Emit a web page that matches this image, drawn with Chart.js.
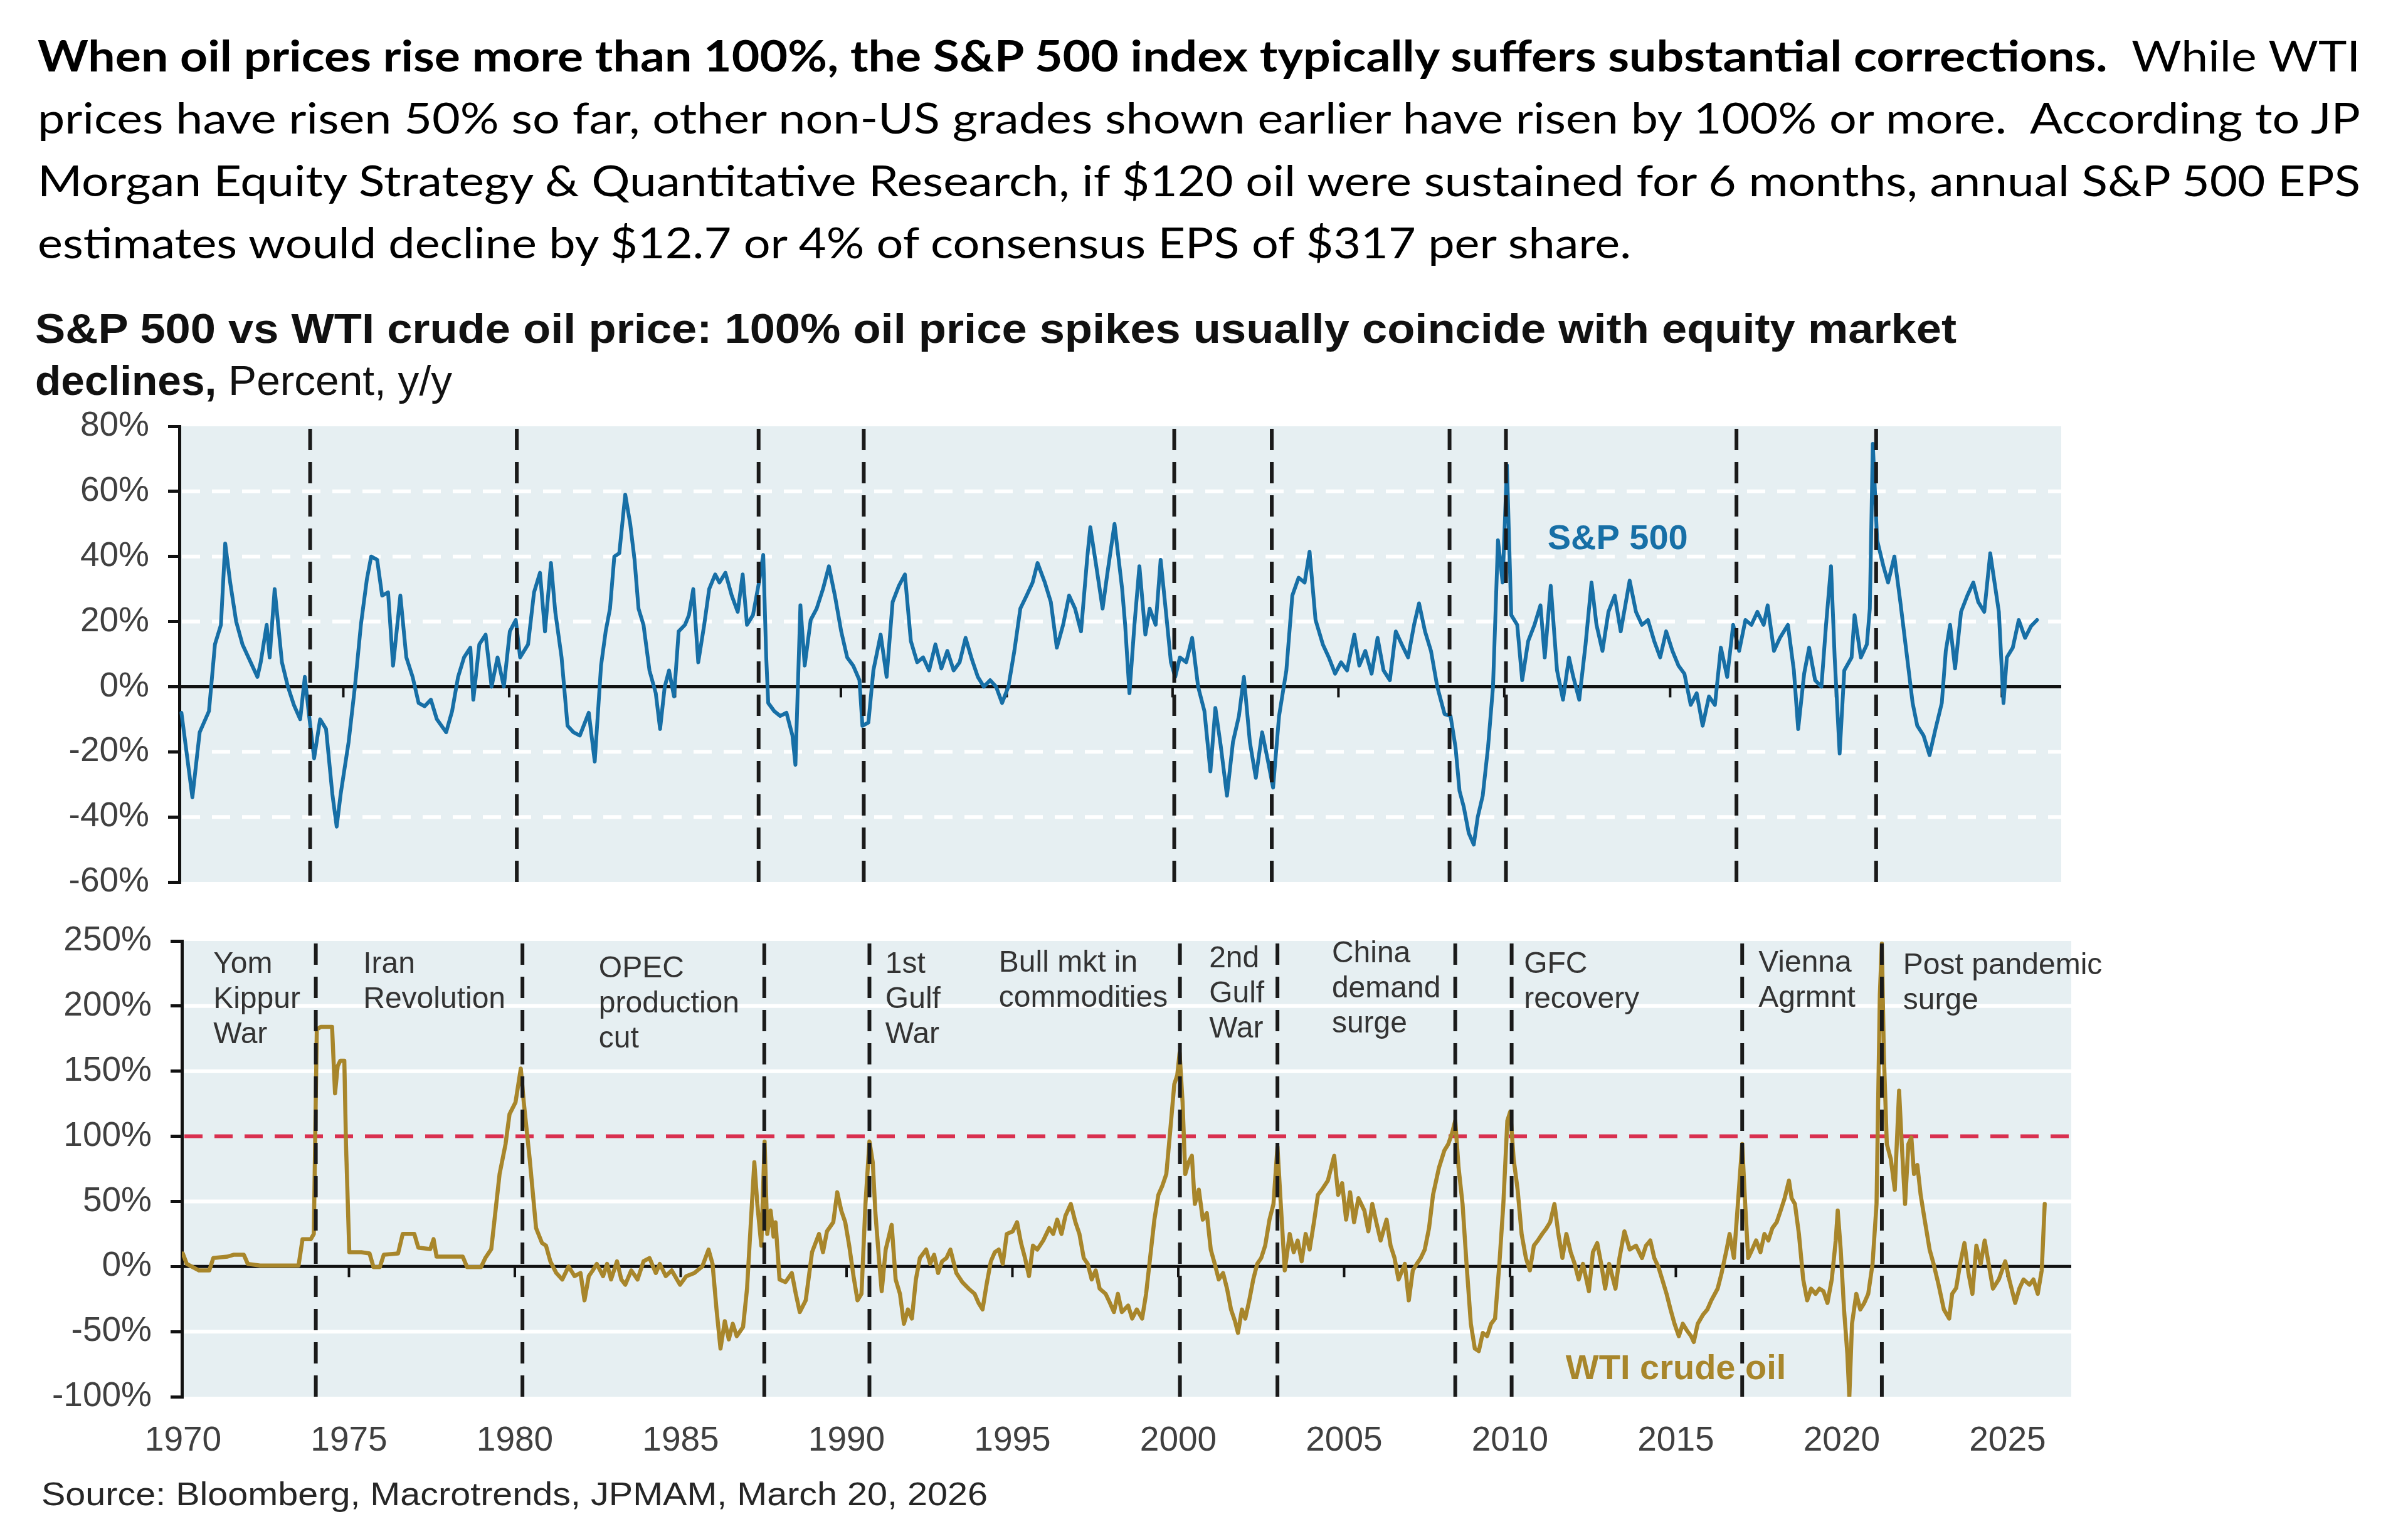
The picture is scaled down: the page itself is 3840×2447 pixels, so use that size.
<!DOCTYPE html>
<html>
<head>
<meta charset="utf-8">
<script src="https://cdn.jsdelivr.net/npm/chart.js@4.4.1/dist/chart.umd.min.js"></script>
<style>
  html, body { margin: 0; padding: 0; background: #fff; }
  body { width: 3840px; height: 2447px; position: relative; overflow: hidden; }
  .t { position: absolute; white-space: nowrap; transform-origin: 0 0; }
  .para { font-family: Lato, "Open Sans", sans-serif; font-size: 68px; line-height: 80px; color: #000; }
  .ttl { font-family: "Liberation Sans", Arial, sans-serif; font-size: 66px; line-height: 76px; color: #111; }
  .src { font-family: "Liberation Sans", Arial, sans-serif; font-size: 52px; line-height: 60px; color: #262626; }
  canvas { position: absolute; left: 0; }
</style>
</head>
<body>
<div class="t para" style="left:60px;top:48px" data-w="3704"><b>When oil prices rise more than 100%, the S&amp;P 500 index typically suffers substantial corrections.</b>&nbsp; While WTI</div>
<div class="t para" style="left:60px;top:147px" data-w="3704">prices have risen 50% so far, other non-US grades shown earlier have risen by 100% or more.&nbsp; According to JP</div>
<div class="t para" style="left:60px;top:247px" data-w="3704">Morgan Equity Strategy &amp; Quantitative Research, if $120 oil were sustained for 6 months, annual S&amp;P 500 EPS</div>
<div class="t para" style="left:60px;top:346px" data-w="2541">estimates would decline by $12.7 or 4% of consensus EPS of $317 per share.</div>

<div class="t ttl" style="left:56px;top:486px" data-w="3064"><b>S&amp;P 500 vs WTI crude oil price: 100% oil price spikes usually coincide with equity market</b></div>
<div class="t ttl" style="left:56px;top:569px" data-w="665"><b>declines,</b> Percent, y/y</div>

<canvas id="spxChart" width="3840" height="820" style="top:640px"></canvas>
<canvas id="wtiChart" width="3840" height="987" style="top:1460px"></canvas>

<div class="t src" style="left:66px;top:2353px" data-w="1509">Source: Bloomberg, Macrotrends, JPMAM, March 20, 2026</div>

<script>
// ---- data ----
const spxYears = [
  1970.12, 1970.45, 1970.67, 1970.95, 1971.13, 1971.31, 1971.44, 1971.59, 1971.77, 1971.96,
  1972.14, 1972.41, 1972.51, 1972.69, 1972.78, 1972.93, 1973.15, 1973.33, 1973.51, 1973.70,
  1973.84, 1973.97, 1974.12, 1974.30, 1974.48, 1974.67, 1974.80, 1974.92, 1975.16, 1975.35,
  1975.53, 1975.71, 1975.84, 1976.02, 1976.17, 1976.35, 1976.50, 1976.72, 1976.90, 1977.09,
  1977.27, 1977.45, 1977.64, 1977.82, 1978.10, 1978.28, 1978.46, 1978.64, 1978.83, 1978.92,
  1979.10, 1979.29, 1979.47, 1979.65, 1979.84, 1980.02, 1980.20, 1980.33, 1980.57, 1980.75,
  1980.93, 1981.08, 1981.26, 1981.39, 1981.58, 1981.76, 1981.94, 1982.13, 1982.40, 1982.58,
  1982.77, 1982.91, 1983.04, 1983.17, 1983.32, 1983.50, 1983.65, 1983.78, 1983.90, 1984.05,
  1984.23, 1984.42, 1984.55, 1984.69, 1984.82, 1984.97, 1985.11, 1985.30, 1985.42, 1985.55,
  1985.70, 1985.88, 1986.03, 1986.21, 1986.34, 1986.52, 1986.71, 1986.89, 1987.04, 1987.17,
  1987.35, 1987.53, 1987.66, 1987.75, 1987.81, 1987.99, 1988.17, 1988.36, 1988.54, 1988.63,
  1988.78, 1988.91, 1989.09, 1989.27, 1989.46, 1989.64, 1989.82, 1990.01, 1990.19, 1990.37,
  1990.56, 1990.65, 1990.83, 1990.98, 1991.20, 1991.38, 1991.56, 1991.75, 1991.93, 1992.11,
  1992.30, 1992.48, 1992.66, 1992.85, 1993.03, 1993.21, 1993.40, 1993.58, 1993.76, 1993.95,
  1994.13, 1994.31, 1994.50, 1994.68, 1994.86, 1995.05, 1995.23, 1995.41, 1995.60, 1995.78,
  1995.93, 1996.15, 1996.33, 1996.51, 1996.70, 1996.88, 1997.06, 1997.24, 1997.43, 1997.52,
  1997.70, 1997.89, 1998.03, 1998.25, 1998.48, 1998.57, 1998.70, 1998.85, 1999.00, 1999.18,
  1999.31, 1999.49, 1999.64, 1999.80, 1999.95, 2000.08, 2000.22, 2000.41, 2000.59, 2000.77,
  2000.96, 2001.14, 2001.29, 2001.45, 2001.64, 2001.82, 2002.00, 2002.15, 2002.33, 2002.51,
  2002.70, 2002.88, 2003.03, 2003.21, 2003.43, 2003.61, 2003.80, 2003.98, 2004.13, 2004.31,
  2004.53, 2004.71, 2004.90, 2005.08, 2005.26, 2005.48, 2005.63, 2005.81, 2006.00, 2006.18,
  2006.36, 2006.55, 2006.73, 2006.91, 2007.10, 2007.28, 2007.43, 2007.61, 2007.79, 2007.98,
  2008.20, 2008.38, 2008.53, 2008.65, 2008.78, 2008.93, 2009.08, 2009.20, 2009.35, 2009.51,
  2009.66, 2009.81, 2009.95, 2010.08, 2010.21, 2010.39, 2010.54, 2010.72, 2010.91, 2011.09,
  2011.22, 2011.40, 2011.59, 2011.77, 2011.95, 2012.08, 2012.26, 2012.45, 2012.63, 2012.78,
  2012.96, 2013.14, 2013.33, 2013.51, 2013.78, 2013.97, 2014.15, 2014.33, 2014.52, 2014.70,
  2014.88, 2015.07, 2015.25, 2015.43, 2015.62, 2015.80, 2015.98, 2016.17, 2016.35, 2016.53,
  2016.72, 2016.90, 2017.08, 2017.27, 2017.45, 2017.63, 2017.82, 2017.94, 2018.13, 2018.31,
  2018.55, 2018.73, 2018.86, 2019.04, 2019.19, 2019.37, 2019.56, 2019.70, 2019.85, 2019.96,
  2020.11, 2020.25, 2020.47, 2020.56, 2020.75, 2020.93, 2021.02, 2021.11, 2021.24, 2021.43,
  2021.57, 2021.76, 2021.94, 2022.12, 2022.31, 2022.45, 2022.64, 2022.82, 2023.00, 2023.19,
  2023.31, 2023.44, 2023.59, 2023.77, 2023.96, 2024.14, 2024.29, 2024.47, 2024.65, 2024.78,
  2024.91, 2025.05, 2025.15, 2025.33, 2025.51, 2025.70, 2025.88, 2026.06
];
const spxValues = [
  -8, -34, -14, -7.5, 13, 19, 44, 32, 20, 13,
  9, 3, 7.5, 19, 9, 30, 7.5, 0, -5.6, -10,
  3, -9, -22, -10, -13, -33, -43, -33, -17, 0,
  19, 33, 40, 39, 28, 29, 6.5, 28, 9, 3,
  -5, -6, -4, -10, -14, -7.5, 3, 9, 12, -4,
  13, 16, 0, 9, 0, 17, 20.5, 9, 13, 29,
  35, 17, 38, 23, 9, -12, -14, -15, -8, -23,
  6.5, 17, 24, 40, 41, 59, 50, 39, 24, 19,
  5, -2, -13, 0, 5, -3, 17, 19, 22, 30,
  7.5, 19, 30, 34.5, 32, 35, 28, 23, 34.5, 19,
  22, 32, 40.5, 9, -5, -7.5, -9, -8, -15, -24,
  25, 6.5, 20.5, 24, 30, 37, 28, 17, 9, 6.5,
  2, -12, -11, 5, 16, 3, 26, 31, 34.5, 14,
  7.5, 9, 5, 13, 5.6, 11, 5, 7.5, 15, 8.4,
  3, 0, 2, 0, -5, 0, 11, 24, 28, 32,
  38, 32, 26, 12, 19, 28, 24, 17, 40, 49,
  37, 24, 34.5, 50, 30, 19, -2, 19, 37, 16,
  24, 19, 39, 23, 7.5, 3, 9, 7.5, 15, 0,
  -7.5, -26, -6.5, -18, -33.5, -17, -9, 3, -17, -28,
  -14, -23, -31, -9, 5, 28, 33.5, 32, 41.5, 20.5,
  13, 9, 4, 7.5, 5, 16, 6.5, 11, 4, 15,
  5, 2, 17, 13, 9, 19, 25.6, 17, 11, 0,
  -8.4, -9, -18.6, -32, -37, -45, -48.5, -40, -33.5, -18.6,
  0, 45, 32, 68, 22, 19, 2, 14, 19, 25,
  9, 31, 5, -4, 9, 3, -4, 13, 32, 19,
  11, 23, 28, 17, 32.6, 23, 19, 20.5, 14, 9,
  17, 11, 6.5, 4, -5.6, -2, -12, -3, -5.6, 12,
  3, 19, 11, 20.5, 19, 23, 19, 25, 11, 15,
  19, 5, -13, 4, 12, 2, 0, 19, 37, 9,
  -20.5, 5, 9, 22, 9, 13, 24, 74.6, 45, 37,
  32, 40, 26, 11, -5, -12, -15, -21, -13, -5,
  11, 19, 5.6, 23, 28, 32, 26, 23, 41, 32,
  23, -5, 9, 12, 20.5, 15, 18.6, 20.5
];

const wtiYears = [
  1969.99, 1970.11, 1970.48, 1970.79, 1970.91, 1971.34, 1971.52, 1971.83, 1971.95, 1972.32,
  1973.48, 1973.60, 1973.85, 1973.94, 1974.03, 1974.15, 1974.49, 1974.58, 1974.66, 1974.74,
  1974.86, 1974.91, 1975.01, 1975.37, 1975.62, 1975.74, 1975.93, 1976.05, 1976.48, 1976.62,
  1976.97, 1977.09, 1977.45, 1977.55, 1977.64, 1978.43, 1978.56, 1978.98, 1979.11, 1979.29,
  1979.54, 1979.72, 1979.84, 1980.02, 1980.18, 1980.27, 1980.45, 1980.64, 1980.82, 1980.94,
  1981.07, 1981.25, 1981.43, 1981.62, 1981.80, 1981.98, 1982.10, 1982.23, 1982.35, 1982.47,
  1982.66, 1982.78, 1982.90, 1983.08, 1983.21, 1983.33, 1983.51, 1983.70, 1983.88, 1984.06,
  1984.25, 1984.37, 1984.55, 1984.73, 1984.98, 1985.17, 1985.41, 1985.65, 1985.84, 1985.96,
  1986.08, 1986.20, 1986.33, 1986.45, 1986.57, 1986.69, 1986.88, 1987.00, 1987.12, 1987.22,
  1987.31, 1987.43, 1987.53, 1987.61, 1987.71, 1987.80, 1987.86, 1987.98, 1988.16, 1988.35,
  1988.47, 1988.59, 1988.77, 1988.96, 1989.17, 1989.29, 1989.41, 1989.60, 1989.72, 1989.84,
  1989.96, 1990.08, 1990.21, 1990.33, 1990.45, 1990.57, 1990.69, 1990.79, 1990.87, 1990.99,
  1991.06, 1991.18, 1991.36, 1991.48, 1991.61, 1991.73, 1991.85, 1991.97, 1992.09, 1992.21,
  1992.40, 1992.52, 1992.64, 1992.76, 1992.88, 1993.01, 1993.13, 1993.31, 1993.49, 1993.68,
  1993.86, 1993.98, 1994.10, 1994.22, 1994.35, 1994.47, 1994.59, 1994.71, 1994.83, 1995.01,
  1995.14, 1995.26, 1995.38, 1995.50, 1995.62, 1995.75, 1995.93, 1996.11, 1996.23, 1996.35,
  1996.48, 1996.60, 1996.76, 1996.90, 1997.02, 1997.15, 1997.27, 1997.39, 1997.51, 1997.63,
  1997.81, 1997.94, 1998.06, 1998.18, 1998.30, 1998.49, 1998.61, 1998.75, 1998.91, 1999.03,
  1999.15, 1999.28, 1999.40, 1999.52, 1999.64, 1999.76, 1999.88, 1999.97, 2000.04, 2000.13,
  2000.21, 2000.31, 2000.41, 2000.50, 2000.62, 2000.74, 2000.86, 2000.98, 2001.10, 2001.22,
  2001.35, 2001.47, 2001.59, 2001.71, 2001.80, 2001.92, 2002.02, 2002.14, 2002.26, 2002.38,
  2002.50, 2002.62, 2002.75, 2002.87, 2002.99, 2003.09, 2003.21, 2003.36, 2003.48, 2003.60,
  2003.72, 2003.84, 2003.96, 2004.09, 2004.21, 2004.33, 2004.51, 2004.70, 2004.82, 2004.94,
  2005.06, 2005.18, 2005.30, 2005.43, 2005.61, 2005.73, 2005.85, 2005.97, 2006.10, 2006.28,
  2006.40, 2006.52, 2006.64, 2006.83, 2006.95, 2007.07, 2007.19, 2007.31, 2007.43, 2007.56,
  2007.68, 2007.86, 2008.02, 2008.14, 2008.26, 2008.35, 2008.45, 2008.57, 2008.69, 2008.82,
  2008.94, 2009.06, 2009.18, 2009.31, 2009.43, 2009.55, 2009.68, 2009.80, 2009.92, 2010.01,
  2010.11, 2010.23, 2010.35, 2010.48, 2010.60, 2010.72, 2010.84, 2010.97, 2011.09, 2011.21,
  2011.34, 2011.46, 2011.58, 2011.70, 2011.83, 2011.95, 2012.07, 2012.20, 2012.38, 2012.50,
  2012.63, 2012.75, 2012.87, 2012.99, 2013.18, 2013.30, 2013.45, 2013.61, 2013.80, 2013.98,
  2014.10, 2014.23, 2014.35, 2014.47, 2014.59, 2014.72, 2014.84, 2014.96, 2015.09, 2015.21,
  2015.33, 2015.46, 2015.54, 2015.66, 2015.82, 2015.95, 2016.07, 2016.26, 2016.38, 2016.53,
  2016.62, 2016.75, 2016.87, 2017.00, 2017.09, 2017.18, 2017.30, 2017.42, 2017.55, 2017.67,
  2017.79, 2017.91, 2018.04, 2018.16, 2018.28, 2018.41, 2018.49, 2018.59, 2018.71, 2018.84,
  2018.96, 2019.08, 2019.21, 2019.33, 2019.45, 2019.57, 2019.70, 2019.82, 2019.88, 2019.97,
  2020.07, 2020.17, 2020.23, 2020.31, 2020.44, 2020.56, 2020.68, 2020.80, 2020.93, 2021.05,
  2021.15, 2021.21, 2021.27, 2021.36, 2021.48, 2021.60, 2021.73, 2021.81, 2021.91, 2022.01,
  2022.10, 2022.18, 2022.28, 2022.38, 2022.50, 2022.65, 2022.77, 2022.92, 2023.08, 2023.24,
  2023.33, 2023.45, 2023.57, 2023.70, 2023.82, 2023.94, 2024.06, 2024.19, 2024.31, 2024.43,
  2024.56, 2024.74, 2024.93, 2025.05, 2025.23, 2025.36, 2025.48, 2025.66, 2025.78, 2025.91,
  2026.03, 2026.12
];
const wtiValues = [
  10, 2, -3, -3, 6.5, 7.6, 9, 9, 2, 0.7,
  0.7, 21, 21, 25, 182, 184, 184, 133, 154, 158,
  158, 94, 11, 11, 10, -0.5, -0.5, 9, 10, 25,
  25, 14.5, 13.4, 21, 7.6, 7.6, -0.5, -0.5, 6.5, 13.4,
  71, 94, 117, 126, 152, 126, 82, 29.5, 18, 16,
  4, -5, -10, 0, -7.4, -5, -26, -7.4, -3, 2,
  -7.4, 2, -10, 4, -10, -14, -3, -10, 4, 6.5,
  -5, 2, -7.4, -3, -14, -7.4, -5, 0, 13, 2,
  -33, -63, -42, -56, -44, -53.5, -46.5, -17, 36, 80,
  48, 16, 96, 25, 43, 23, 34, -10, -12, -5,
  -21, -35, -26, 11, 25, 11, 27, 34, 57, 43,
  34, 16, -7.4, -26, -21, 48, 96, 80, 41, 2,
  -19, 13, 32, -10, -21, -44, -33, -40, -10, 6.5,
  13, 2, 9, -5, 4, 6.5, 13, -5, -12, -17,
  -21, -28, -33, -14, 4, 11, 13, 2, 25, 27,
  34, 18, 6.5, -7.4, 16, 13, 20, 29.5, 25, 36,
  25, 39, 48, 34, 25, 6.5, 2, -10, -3, -17,
  -21, -28, -35, -21, -35, -30, -40, -33, -40, -21,
  6.5, 36, 55, 62, 71, 105, 140, 147, 164, 126,
  71, 80, 85, 48, 59, 36, 41, 13, 2, -10,
  -5, -17, -33, -42, -51, -33, -40, -26, -10, 2,
  6.5, 16, 36, 48, 92, 48, -3, 25, 11, 20,
  4, 25, 13, 34, 55, 59, 66, 85, 55, 64,
  36, 57, 34, 52.5, 43, 27, 48, 34, 20, 36,
  16, 6.5, -10, 2, -26, -3, 2, 6.5, 13, 29.5,
  55, 76, 89, 94, 103, 112, 76, 48, 2, -44,
  -63, -65, -51, -53.5, -44, -40, 2, 48, 112, 119,
  82.5, 59, 25, 6.5, -3, 16, 20, 25, 29, 34,
  48, 25, 6.5, 25, 11, 2, -10, 2, -19, 11,
  18, 2, -17, 2, -17, 6.5, 27, 13, 16, 6.5,
  16, 20, 6.5, 0, -10, -21, -33, -44, -53.5, -44,
  -49, -53.5, -58, -44, -37, -33, -26, -17, -5, 13,
  25, 6.5, 48, 94, 48, 6.5, 13, 20, 11, 25,
  20, 29.5, 34, 43, 52.5, 66, 52.5, 48, 25, -10,
  -26, -17, -21, -17, -19, -28, -10, 20, 43, 13,
  -33, -67, -100, -44, -21, -33, -28, -21, 2, 48,
  209, 248, 163, 94, 82.5, 59, 135, 94, 48, 94,
  99, 71, 78, 55, 36, 13, 2, -14, -33, -40,
  -21, -16.6, 2, 18, -5, -21, 16, 2, 20, 2,
  -17, -9.7, 4, -10, -28, -16.6, -10, -14, -10, -21,
  -3, 48
];

const xTickYears = [1970, 1975, 1980, 1985, 1990, 1995, 2000, 2005, 2010, 2015, 2020, 2025];
const spxTicks = [80, 60, 40, 20, 0, -20, -40, -60];
const wtiTicks = [250, 200, 150, 100, 50, 0, -50, -100];
const eventYears = [1974.0, 1980.23, 1987.52, 1990.69, 2000.05, 2002.99, 2008.35, 2010.05, 2017.0, 2021.21];
const eventLabels = [
  ['Yom', 'Kippur', 'War'],
  ['Iran', 'Revolution'],
  ['OPEC', 'production', 'cut'],
  ['1st', 'Gulf', 'War'],
  ['Bull mkt in', 'commodities'],
  ['2nd', 'Gulf', 'War'],
  ['China', 'demand', 'surge'],
  ['GFC', 'recovery'],
  ['Vienna', 'Agrmnt'],
  ['Post pandemic', 'surge']
];
const oilThreshold = 100;

// ---- styling / layout ----
const BLUE = '#176FA6';
const GOLD = '#A8862B';
const PLOT_BG = '#E6EFF2';
const RED = '#D9304F';
const FONT = '"Liberation Sans", Arial, sans-serif';
const TICK_COLOR = '#404040';

// where each event label sits: left edge (year) and first baseline below the plot top (px)
const eventLabelAt = [
  [1970.91, 51], [1975.43, 51], [1982.53, 58], [1991.17, 51], [1994.59, 49],
  [2000.93, 42], [2004.63, 34], [2010.42, 51], [2017.49, 49], [2021.85, 53]
];

Chart.defaults.font.family = FONT;

function decor(opts) {
  return {
    id: 'decor',
    beforeDraw(chart) {
      const { ctx, chartArea: a } = chart;
      ctx.save();
      ctx.fillStyle = PLOT_BG;
      ctx.fillRect(a.left, a.top, a.right - a.left, a.bottom - a.top);
      ctx.restore();
    },
    beforeDatasetsDraw(chart) {
      const { ctx, chartArea: a, scales: { x, y } } = chart;
      ctx.save();
      ctx.lineCap = 'butt';
      ctx.strokeStyle = '#fff';
      ctx.lineWidth = 6;
      ctx.setLineDash(opts.gridDash);
      opts.gridValues.forEach(v => {
        const py = y.getPixelForValue(v);
        ctx.beginPath(); ctx.moveTo(a.left + 4, py); ctx.lineTo(a.right, py); ctx.stroke();
      });
      if (opts.refLine != null) {
        const py = y.getPixelForValue(opts.refLine);
        ctx.strokeStyle = RED;
        ctx.lineWidth = 6;
        ctx.setLineDash([29, 19]);
        ctx.beginPath(); ctx.moveTo(a.left + 4, py); ctx.lineTo(a.right, py); ctx.stroke();
      }
      const y0 = y.getPixelForValue(0);
      ctx.setLineDash([]);
      ctx.strokeStyle = '#111';
      ctx.lineWidth = 5;
      ctx.beginPath(); ctx.moveTo(a.left, y0); ctx.lineTo(a.right, y0); ctx.stroke();
      ctx.lineWidth = 4;
      xTickYears.forEach(yr => {
        if (yr <= x.min + 0.5) return;
        const px = x.getPixelForValue(yr);
        ctx.beginPath(); ctx.moveTo(px, y0); ctx.lineTo(px, y0 + 17); ctx.stroke();
      });
      ctx.restore();
    },
    afterDatasetsDraw(chart) {
      const { ctx, chartArea: a, scales: { x, y } } = chart;
      ctx.save();
      // series label
      const s = opts.seriesLabel;
      ctx.font = 'bold 56px ' + FONT;
      ctx.fillStyle = s.color;
      ctx.textBaseline = 'alphabetic';
      ctx.fillText(s.text, x.getPixelForValue(s.year), y.getPixelForValue(s.value));
      // event labels
      if (opts.events) {
        ctx.font = '48px ' + FONT;
        ctx.fillStyle = '#333';
        eventLabels.forEach((lines, i) => {
          const [yr, off] = eventLabelAt[i];
          const px = x.getPixelForValue(yr);
          lines.forEach((ln, j) => ctx.fillText(ln, px, a.top + off + j * 56));
        });
      }
      // event dividers
      ctx.strokeStyle = '#1a1a1a';
      ctx.lineWidth = 6;
      ctx.setLineDash([34, 19]);
      eventYears.forEach(yr => {
        const px = x.getPixelForValue(yr);
        ctx.beginPath(); ctx.moveTo(px, a.top + 4); ctx.lineTo(px, a.bottom + 6); ctx.stroke();
      });
      ctx.restore();
    }
  };
}

// the label padding Chart.js reserves around an axis would push the plot inward; keep the plot where the reference has it
function noLabelPadding(s) {
  s.paddingTop = 0; s.paddingBottom = 0; s.paddingLeft = 0; s.paddingRight = 0;
}

function yAxis(min, max, ticks, width) {
  return {
    position: 'left',
    min: min,
    max: max,
    afterBuildTicks: s => { s.ticks = ticks.map(v => ({ value: v })); },
    afterFit: s => { s.width = width; noLabelPadding(s); },
    ticks: {
      callback: v => v + '%',
      color: TICK_COLOR,
      font: { size: 55 },
      padding: 30
    },
    grid: { display: true, drawOnChartArea: false, drawTicks: true, tickLength: 18, color: '#111', lineWidth: 5 },
    border: { display: true, color: '#111', width: 5 }
  };
}

const baseOpts = {
  responsive: false,
  animation: false,
  devicePixelRatio: 1,
  events: [],
  plugins: { legend: { display: false }, tooltip: { enabled: false } },
  elements: { point: { radius: 0 }, line: { tension: 0, borderJoinStyle: 'round', borderCapStyle: 'round' } }
};

new Chart(document.getElementById('spxChart'), {
  type: 'line',
  data: {
    datasets: [{
      data: spxYears.map((x, i) => ({ x: x, y: spxValues[i] })),
      borderColor: BLUE,
      borderWidth: 6
    }]
  },
  options: Object.assign({}, baseOpts, {
    layout: { padding: { top: 40, bottom: 53, left: 0, right: 553 } },
    scales: {
      x: { type: 'linear', min: 1970.057, max: 2026.79, display: false },
      y: yAxis(-60, 80, spxTicks, 286)
    }
  }),
  plugins: [decor({
    gridValues: [60, 40, 20, -20, -40],
    gridDash: [29, 19],
    refLine: null,
    seriesLabel: { text: 'S&P 500', color: BLUE, year: 2011.3, value: 42.3 },
    events: false
  })]
});

new Chart(document.getElementById('wtiChart'), {
  type: 'line',
  data: {
    datasets: [{
      data: wtiYears.map((x, i) => ({ x: x, y: wtiValues[i] })),
      borderColor: GOLD,
      borderWidth: 6.5
    }]
  },
  options: Object.assign({}, baseOpts, {
    layout: { padding: { top: 41, bottom: 0, left: 0, right: 537 } },
    scales: {
      x: {
        type: 'linear',
        position: 'bottom',
        min: 1969.962,
        max: 2026.92,
        afterBuildTicks: s => { s.ticks = xTickYears.map(v => ({ value: v })); },
        afterFit: s => { s.height = 219; noLabelPadding(s); },
        ticks: { callback: v => String(v), color: TICK_COLOR, font: { size: 55 }, padding: 38, maxRotation: 0, autoSkip: false },
        grid: { display: false, drawTicks: false },
        border: { display: false }
      },
      y: yAxis(-100, 250, wtiTicks, 290)
    }
  }),
  plugins: [decor({
    gridValues: [200, 150, 50, -50],
    gridDash: [],
    refLine: oilThreshold,
    seriesLabel: { text: 'WTI crude oil', color: GOLD, year: 2011.68, value: -86.6 },
    events: true
  })]
});

function fitText() {
  document.querySelectorAll('[data-w]').forEach(el => {
    el.style.transform = 'none';
    const w = el.getBoundingClientRect().width;
    el.style.transform = 'scaleX(' + (Number(el.dataset.w) / w) + ')';
  });
}
fitText();
if (document.fonts && document.fonts.ready) document.fonts.ready.then(fitText);
</script>
</body>
</html>
